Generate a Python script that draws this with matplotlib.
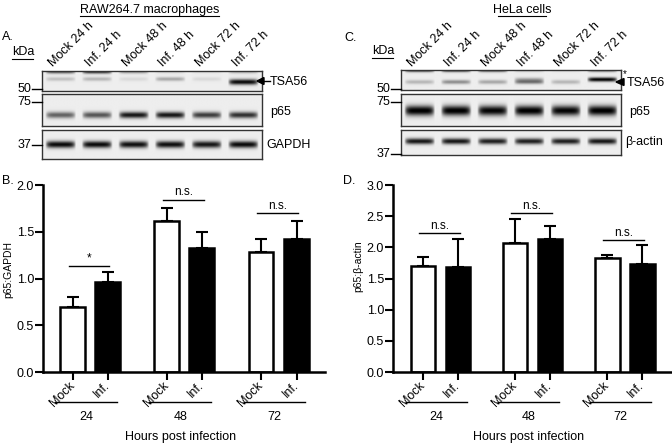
import numpy as np
import matplotlib
matplotlib.use("Agg")
import matplotlib.pyplot as plt
from matplotlib.transforms import blended_transform_factory

plt.rcParams['font.family'] = ['Liberation Sans', 'DejaVu Sans']

# ---------------- data ----------------
lanes = ["Mock 24 h", "Inf. 24 h", "Mock 48 h", "Inf. 48 h", "Mock 72 h", "Inf. 72 h"]
bar_labels = ["Mock", "Inf.", "Mock", "Inf.", "Mock", "Inf."]
groups = ["24", "48", "72"]

raw_means = [0.70, 0.96, 1.61, 1.33, 1.28, 1.42]
raw_errs = [0.10, 0.11, 0.14, 0.17, 0.14, 0.19]
raw_sig = ["*", "n.s.", "n.s."]
raw_sig_y = [1.13, 1.84, 1.70]

hela_means = [1.70, 1.69, 2.07, 2.13, 1.83, 1.74]
hela_errs = [0.15, 0.45, 0.39, 0.22, 0.05, 0.29]
hela_sig = ["n.s.", "n.s.", "n.s."]
hela_sig_y = [2.23, 2.55, 2.11]

# band intensities per lane for the blot strips
raw_tsa56_top = [0.55, 0.70, 0.30, 0.08, 0.05, 0.20]
raw_tsa56_mid = [0.18, 0.22, 0.08, 0.28, 0.08, 0.00]
raw_tsa56_main = [0.00, 0.00, 0.00, 0.00, 0.00, 0.90]
raw_p65 = [0.55, 0.60, 0.85, 0.85, 0.70, 0.75]
raw_gapdh = [0.90, 0.90, 0.88, 0.88, 0.85, 0.90]

hela_tsa56_top = [0.85, 0.85, 0.75, 0.20, 0.08, 0.55]
hela_tsa56_low = [0.22, 0.38, 0.28, 0.45, 0.22, 0.00]
hela_tsa56_main = [0.00, 0.00, 0.00, 0.25, 0.00, 0.95]
hela_p65 = [0.95, 0.95, 0.92, 0.95, 0.92, 0.95]
hela_actin = [0.85, 0.85, 0.82, 0.82, 0.82, 0.85]

W, H = 672, 448
fig = plt.figure(figsize=(W / 100, H / 100), dpi=100)


def fx(px):
    return px / W


def fy(py):
    return 1 - py / H


def blot_image(bands, nlanes=6, h=60, w=300, bg=0.93):
    img = np.full((h, w), bg)
    yy = np.linspace(0, 1, h)[:, None]
    xx = np.linspace(0, nlanes, w)[None, :]
    for ypos, thick, intens in bands:
        for i, a in enumerate(intens):
            lane = np.clip(1 - (np.abs(xx - (i + 0.5)) / 0.42) ** 6, 0, 1)
            img = img - a * np.exp(-((yy - ypos) / thick) ** 2) * lane
    return np.clip(img, 0, 1)


def strip(x0, x1, y0, y1, bands):
    ax = fig.add_axes([fx(x0), fy(y1), fx(x1) - fx(x0), fy(y0) - fy(y1)])
    ax.imshow(blot_image(bands), cmap='gray', vmin=0, vmax=1, aspect='auto',
              interpolation='bilinear')
    ax.set_xticks([])
    ax.set_yticks([])
    for s in ax.spines.values():
        s.set_color('#333333')
        s.set_linewidth(1.0)
    return ax


# ---------------- blots ----------------
lx0, lx1 = 42, 262
strip(lx0, lx1, 71, 91, [(0.03, 0.10, raw_tsa56_top), (0.40, 0.10, raw_tsa56_mid),
                         (0.55, 0.14, raw_tsa56_main)])
strip(lx0, lx1, 94, 126, [(0.66, 0.10, raw_p65)])
strip(lx0, lx1, 130, 159, [(0.50, 0.12, raw_gapdh)])

rx0, rx1 = 401, 621
strip(rx0, rx1, 70, 90, [(0.03, 0.10, hela_tsa56_top), (0.62, 0.10, hela_tsa56_low),
                         (0.50, 0.10, hela_tsa56_main)])
strip(rx0, rx1, 94, 126, [(0.52, 0.16, hela_p65)])
strip(rx0, rx1, 130, 155, [(0.45, 0.12, hela_actin)])

fs = 9
# lane labels
for x0, x1 in [(lx0, lx1), (rx0, rx1)]:
    lw = (x1 - x0) / 6
    for i, lab in enumerate(lanes):
        cx = x0 + lw * (i + 0.5)
        fig.text(fx(cx - 7), fy(67), lab, rotation=45, ha='left', va='baseline',
                 rotation_mode='anchor', fontsize=fs)

# titles
fig.text(fx(150), fy(4), "RAW264.7 macrophages", ha='center', va='top', fontsize=fs)
fig.add_artist(plt.Line2D([fx(80), fx(219)], [fy(16), fy(16)], color='black', lw=0.8))
fig.text(fx(522), fy(4), "HeLa cells", ha='center', va='top', fontsize=fs)
fig.add_artist(plt.Line2D([fx(498), fx(546)], [fy(16), fy(16)], color='black', lw=0.8))

# panel letters
fig.text(fx(2), fy(37), "A.", ha='left', va='center', fontsize=fs)
fig.text(fx(344), fy(38), "C.", ha='left', va='center', fontsize=fs)
fig.text(fx(2), fy(181), "B.", ha='left', va='center', fontsize=fs)
fig.text(fx(343), fy(181), "D.", ha='left', va='center', fontsize=fs)

# kDa
fig.text(fx(12), fy(52), "kDa", ha='left', va='center', fontsize=fs)
fig.add_artist(plt.Line2D([fx(12), fx(33)], [fy(59), fy(59)], color='black', lw=0.8))
fig.text(fx(372), fy(51), "kDa", ha='left', va='center', fontsize=fs)
fig.add_artist(plt.Line2D([fx(372), fx(393)], [fy(58), fy(58)], color='black', lw=0.8))

# markers
for tx, lab, yy in [(lx0, "50", 89), (lx0, "75", 102), (lx0, "37", 145),
                    (rx0, "50", 89), (rx0, "75", 102), (rx0, "37", 154)]:
    fig.text(fx(tx - 11), fy(yy), lab, ha='right', va='center', fontsize=fs)
    fig.add_artist(plt.Line2D([fx(tx - 10), fx(tx)], [fy(yy), fy(yy)], color='black', lw=1.0))

# right labels
fig.text(fx(270), fy(82), "TSA56", ha='left', va='center', fontsize=fs)
fig.add_artist(plt.Line2D([fx(262), fx(270)], [fy(81), fy(81)], color='black', lw=1.0))
fig.add_artist(plt.Polygon([[fx(257), fy(81)], [fx(264), fy(77.5)], [fx(264), fy(84.5)]],
                           closed=True, color='black'))
fig.text(fx(270), fy(112), "p65", ha='left', va='center', fontsize=fs)
fig.text(fx(266), fy(145), "GAPDH", ha='left', va='center', fontsize=fs)

fig.text(fx(627), fy(83), "TSA56", ha='left', va='center', fontsize=fs)
fig.add_artist(plt.Polygon([[fx(616), fy(82)], [fx(624), fy(78.5)], [fx(624), fy(85.5)]],
                           closed=True, color='black'))
fig.text(fx(623), fy(74), "*", ha='left', va='center', fontsize=7)
fig.text(fx(629), fy(112), "p65", ha='left', va='center', fontsize=fs)
fig.text(fx(625), fy(142), "β-actin", ha='left', va='center', fontsize=fs)


# ---------------- bar charts ----------------
def bar_panel(left_px, right_px, xlim, pos, means, errs, ymax, ylabel, sig, sig_y,
              ylab_x, ylab_y):
    ax = fig.add_axes([fx(left_px), fy(372), fx(right_px) - fx(left_px), fy(185) - fy(372)])
    colors = ['white', 'black'] * 3
    ax.bar(pos, means, width=0.71, color=colors, edgecolor='black', linewidth=1.8, zorder=2)
    ax.errorbar(pos, means, yerr=[np.zeros(len(errs)), errs], fmt='none', ecolor='black',
                elinewidth=1.5, capsize=4.5, capthick=1.5, zorder=1)
    ax.set_xlim(*xlim)
    ax.set_ylim(0, ymax)
    ticks = np.arange(0, ymax + 0.01, 0.5)
    ax.set_yticks(ticks)
    ax.set_yticklabels([f"{v:.1f}" for v in ticks], fontsize=fs)
    ax.set_xticks(pos)
    ax.set_xticklabels(bar_labels, rotation=45, ha='right', va='center',
                       rotation_mode='anchor', fontsize=fs)
    for s in ['top', 'right']:
        ax.spines[s].set_visible(False)
    for s in ['left', 'bottom']:
        ax.spines[s].set_linewidth(1.8)
    ax.tick_params(axis='y', direction='out', length=5.5, width=1.5, pad=1)
    ax.tick_params(axis='x', direction='out', length=5.5, width=1.5, pad=3)
    tr = blended_transform_factory(ax.transData, fig.transFigure)
    for g in range(3):
        p0, p1 = pos[2 * g], pos[2 * g + 1]
        c = (p0 + p1) / 2 - 0.12
        ax.plot([c - 0.88, c + 0.88], [fy(402), fy(402)], color='black', lw=1.0,
                transform=tr, clip_on=False)
        ax.text(c, fy(417), groups[g], ha='center', va='center', fontsize=fs, transform=tr)
        ax.plot([p0 - 0.12, p1 + 0.05], [sig_y[g], sig_y[g]], color='black', lw=1.0)
        ax.text((p0 + p1) / 2 - 0.03, sig_y[g] + ymax * 0.008, sig[g], ha='center',
                va='bottom', fontsize=8.5)
    ax.text(0.5 * (pos[2] + pos[3]) - 0.12, fy(437), "Hours post infection", ha='center',
            va='center', fontsize=fs, transform=tr)
    fig.text(fx(ylab_x), fy(ylab_y), ylabel, rotation=90, ha='center', va='center',
             fontsize=7.5)
    return ax


bar_panel(43, 325, (-0.85, 7.21), [0, 1, 2.69, 3.69, 5.38, 6.4], raw_means, raw_errs, 2.0,
          "p65:GAPDH", raw_sig, raw_sig_y, 8, 270)
bar_panel(393, 672, (-0.86, 7.12), [0, 1, 2.63, 3.63, 5.27, 6.27], hela_means, hela_errs, 3.0,
          "p65:β-actin", hela_sig, hela_sig_y, 358, 266)

fig.savefig("out.png", dpi=100)
